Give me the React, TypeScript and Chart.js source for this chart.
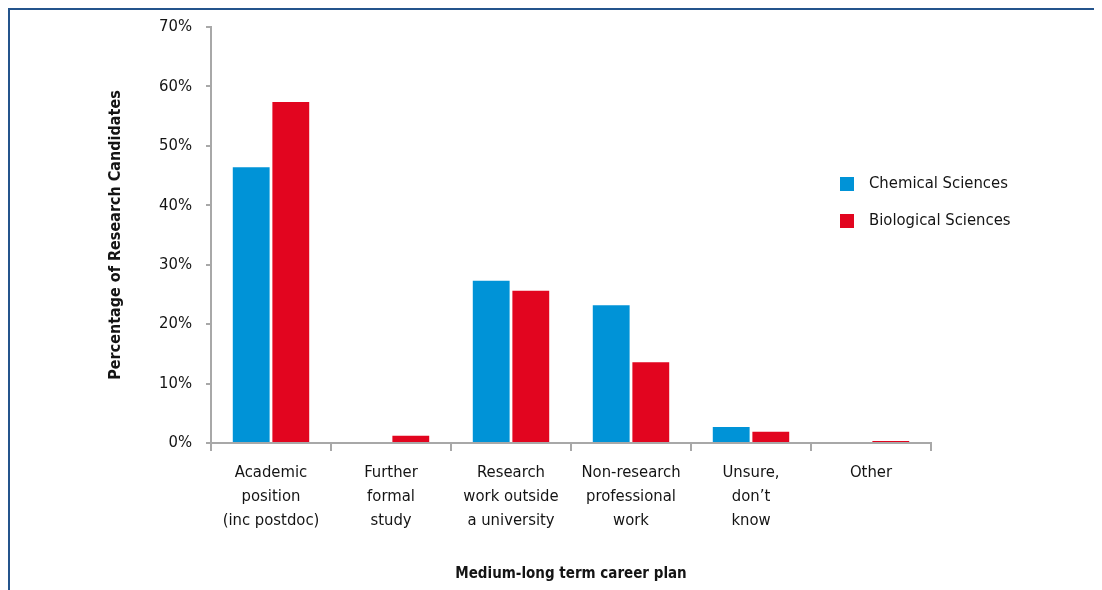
import React, { useEffect, useRef } from "react";
import { Chart, registerables } from "chart.js";

Chart.register(...registerables);

const FONT = "'Liberation Sans Narrow', 'DejaVu Sans Condensed', 'Arial Narrow', sans-serif";

const categories: string[][] = [
  ["Academic", "position", "(inc postdoc)"],
  ["Further", "formal", "study"],
  ["Research", "work outside", "a university"],
  ["Non-research", "professional", "work"],
  ["Unsure,", "don’t", "know"],
  ["Other"],
];
const seriesNames = ["Chemical Sciences", "Biological Sciences"];
const chemicalValues = [46.4, 0, 27.3, 23.2, 2.7, 0];
const biologicalValues = [57.4, 1.2, 25.6, 13.6, 1.9, 0.35];
const yMin = 0;
const yMax = 70;
const yStep = 10;
const yTitle = "Percentage of Research Candidates";
const xTitle = "Medium-long term career plan";

const BLUE = "#0093d7";
const RED = "#e2051f";
const AXIS = "#a8a8a8";
const TEXT = "#141414";

const sideLegend = {
  id: "sideLegend",
  afterDraw(chart: any) {
    const { ctx, chartArea } = chart;
    const x = chartArea.right - 91;
    let y = chartArea.top + 157;
    chart.data.datasets.forEach((ds: any) => {
      ctx.save();
      ctx.fillStyle = ds.backgroundColor;
      ctx.fillRect(x, y - 7, 14, 14);
      ctx.fillStyle = TEXT;
      ctx.font = `16.5px ${FONT}`;
      ctx.textBaseline = "middle";
      ctx.textAlign = "left";
      ctx.fillText(ds.label, x + 29, y);
      ctx.restore();
      y += 37;
    });
  },
};

export default function App() {
  const ref = useRef<HTMLCanvasElement | null>(null);

  useEffect(() => {
    if (!ref.current) return;
    const chart = new Chart(ref.current, {
      type: "bar",
      data: {
        labels: categories,
        datasets: [
          {
            label: seriesNames[0],
            data: chemicalValues,
            backgroundColor: BLUE,
            categoryPercentage: 0.66,
            barPercentage: 0.93,
          },
          {
            label: seriesNames[1],
            data: biologicalValues,
            backgroundColor: RED,
            categoryPercentage: 0.66,
            barPercentage: 0.93,
          },
        ],
      },
      plugins: [sideLegend],
      options: {
        responsive: false,
        animation: false,
        layout: { padding: { top: 17, right: 171, left: 0, bottom: 0 } },
        plugins: {
          legend: { display: false },
          tooltip: { enabled: false },
        },
        scales: {
          x: {
            afterFit(scale: any) {
              scale.height = 147;
              scale.paddingLeft = 0;
              scale.paddingRight = 0;
            },
            grid: {
              offset: true,
              drawOnChartArea: false,
              drawTicks: true,
              tickLength: 8,
              color: AXIS,
              lineWidth: 2,
            },
            border: { display: true, color: AXIS, width: 2 },
            ticks: {
              color: TEXT,
              font: { family: FONT, size: 16.5, lineHeight: 1.45 },
              padding: 10,
              maxRotation: 0,
              autoSkip: false,
            },
            title: {
              display: true,
              text: xTitle,
              color: TEXT,
              font: { family: FONT, size: 15, weight: "bold" },
              padding: { top: 0, bottom: 7 },
            },
          },
          y: {
            min: yMin,
            max: yMax,
            afterFit(scale: any) {
              scale.width = 201;
              scale.paddingTop = 0;
              scale.paddingBottom = 0;
            },
            grid: {
              drawOnChartArea: false,
              drawTicks: true,
              tickLength: 5,
              color: AXIS,
              lineWidth: 2,
            },
            border: { display: true, color: AXIS, width: 2 },
            ticks: {
              stepSize: yStep,
              color: TEXT,
              font: { family: FONT, size: 16.5 },
              padding: 14,
              callback: (v: any) => `${v}%`,
            },
            title: {
              display: true,
              text: yTitle,
              color: TEXT,
              font: { family: FONT, size: 16, weight: "bold" },
              padding: { top: 96, bottom: 0 },
            },
          },
        },
      },
    });
    return () => chart.destroy();
  }, []);

  return (
    <div
      style={{
        width: 1094,
        height: 582,
        boxSizing: "border-box",
        borderLeft: "2px solid #24548c",
        borderTop: "2px solid #24548c",
        background: "#fff",
        overflow: "hidden",
      }}
    >
      <canvas ref={ref} width={1092} height={580} style={{ display: "block" }} />
    </div>
  );
}
